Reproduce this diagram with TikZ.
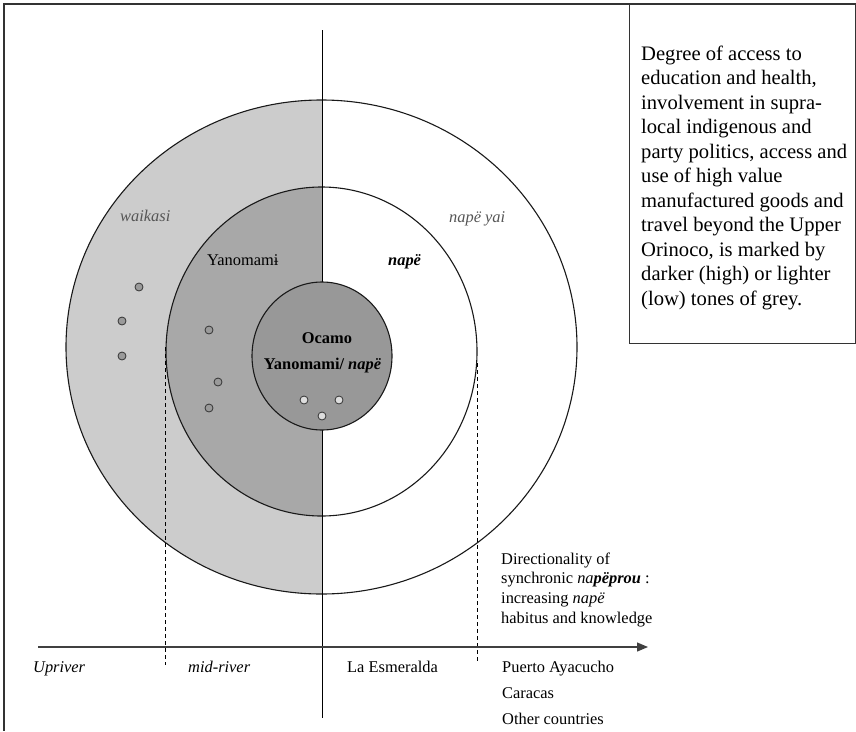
\documentclass[tikz,border=0pt]{standalone}
\usepackage{fontspec}
\setmainfont{Liberation Serif}
\usetikzlibrary{arrows.meta}
\definecolor{lgrey}{HTML}{CCCCCC}
\definecolor{mgrey}{HTML}{A8A8A8}
\definecolor{dgrey}{HTML}{989898}
\definecolor{dotgrey}{HTML}{9A9A9A}
\definecolor{dotlight}{HTML}{DDDDDD}
\definecolor{labgrey}{HTML}{555555}
\definecolor{framecol}{HTML}{333333}
\tikzset{
  ring/.style={draw=black!90, line width=1.1pt},
  dotdark/.style={circle, draw=black!80, fill=dotgrey, line width=0.8pt, minimum size=8pt, inner sep=0pt},
  dotlite/.style={circle, draw=black!80, fill=dotlight, line width=0.8pt, minimum size=8pt, inner sep=0pt},
  lab/.style={inner sep=0pt, font=\fontsize{16.4}{19.7}\selectfont},
  greylab/.style={lab, text=labgrey, font=\fontsize{16.4}{19.7}\selectfont\itshape},
  guide/.style={draw=black, line width=0.8pt, dashed, dash pattern=on 4pt off 3pt},
  frameline/.style={draw=framecol, line width=1.5pt}
}
\begin{document}
\begin{tikzpicture}[x=1pt,y=-1pt]
\useasboundingbox (0,0) rectangle (856,731);
% frame
\coordinate (fTR) at (856,4);
\coordinate (fTL) at (4,4);
\coordinate (fBL) at (4,731);
\draw[frameline] (fTR) -- (fTL) -- (fBL);
% text box
\coordinate (bTL) at (629,4);
\coordinate (bBL) at (629,343);
\coordinate (bBR) at (855.5,343);
\coordinate (bTR) at (855.5,4);
\draw[draw=framecol, line width=1pt] (bTL) -- (bBL) -- (bBR) -- (bTR);
\node[inner sep=0pt, anchor=north west, align=left,
      font=\fontsize{20.6}{24.5}\selectfont] (boxtext) at (641,45.5)
{Degree of access to\\education and health,\\involvement in supra-\\local indigenous and\\party politics, access and\\use of high value\\manufactured goods and\\travel beyond the Upper\\Orinoco, is marked by\\darker (high) or lighter\\(low) tones of grey.};
% grey halves
\begin{scope}
\clip (0,0) rectangle (322,731);
\fill[lgrey] (321.5,347) ellipse [x radius=255.5, y radius=247];
\fill[mgrey] (321.5,351.5) ellipse [x radius=155.5, y radius=164.5];
\end{scope}
\draw[ring] (321.5,347) ellipse [x radius=255.5, y radius=247];
\draw[ring] (321.5,351.5) ellipse [x radius=155.5, y radius=164.5];
% vertical axis
\coordinate (vTop) at (322,30);
\coordinate (vBot) at (322,718);
\draw[black, line width=1pt] (vTop) -- (vBot);
% inner circle
\draw[ring, fill=dgrey] (322,356) ellipse [x radius=70, y radius=74];
% dashed guides
\coordinate (dL1) at (165,347);
\coordinate (dL2) at (165,665);
\coordinate (dR1) at (477,363);
\coordinate (dR2) at (477,663);
\draw[guide] (dL1) -- (dL2);
\draw[guide] (dR1) -- (dR2);
% horizontal axis
\coordinate (axL) at (38,647);
\coordinate (axR) at (648,647);
\draw[draw=black!75, line width=1.2pt, -{Triangle[length=11pt,width=9pt]}] (axL) -- (axR);
% dots
\node[dotdark] (d1) at (139,287) {};
\node[dotdark] (d2) at (122,321) {};
\node[dotdark] (d3) at (122,356) {};
\node[dotdark] (d4) at (209,330) {};
\node[dotdark] (d5) at (218,382) {};
\node[dotdark] (d6) at (209,408) {};
\node[dotlite] (d7) at (304,400) {};
\node[dotlite] (d8) at (339,400) {};
\node[dotlite] (d9) at (322,416) {};
% ring labels
\node[greylab, anchor=base west] (waikasi) at (120,221) {waikasi};
\node[greylab, anchor=base west] (napeyai) at (449,222) {napë yai};
\node[lab, anchor=base west] (yano) at (207,265) {Yanomamɨ};
\node[lab, anchor=base west] (nape) at (388,265) {\textbf{\textit{napë}}};
\node[lab, anchor=base] (ocamo) at (327,343) {\textbf{Ocamo}};
\node[lab, anchor=base] (yanonape) at (322.5,369) {\textbf{Yanomami/ \textit{napë}}};
% directionality
\node[lab, anchor=north west, align=left, font=\fontsize{16.4}{19.7}\selectfont] (dirtext) at (501,552.5)
{Directionality of\\synchronic \textit{na\textbf{pëprou}} :\\increasing \textit{napë}\\habitus and knowledge};
% axis labels
\node[lab, anchor=base west] (upriver) at (33,672) {\textit{Upriver}};
\node[lab, anchor=base west] (midriver) at (188,672) {\textit{mid-river}};
\node[lab, anchor=base west] (esmeralda) at (347,672) {La Esmeralda};
\node[lab, anchor=base west] (puerto) at (502,672) {Puerto Ayacucho};
\node[lab, anchor=base west] (caracas) at (502,698) {Caracas};
\node[lab, anchor=base west] (other) at (502,724) {Other countries};
\end{tikzpicture}
\end{document}
